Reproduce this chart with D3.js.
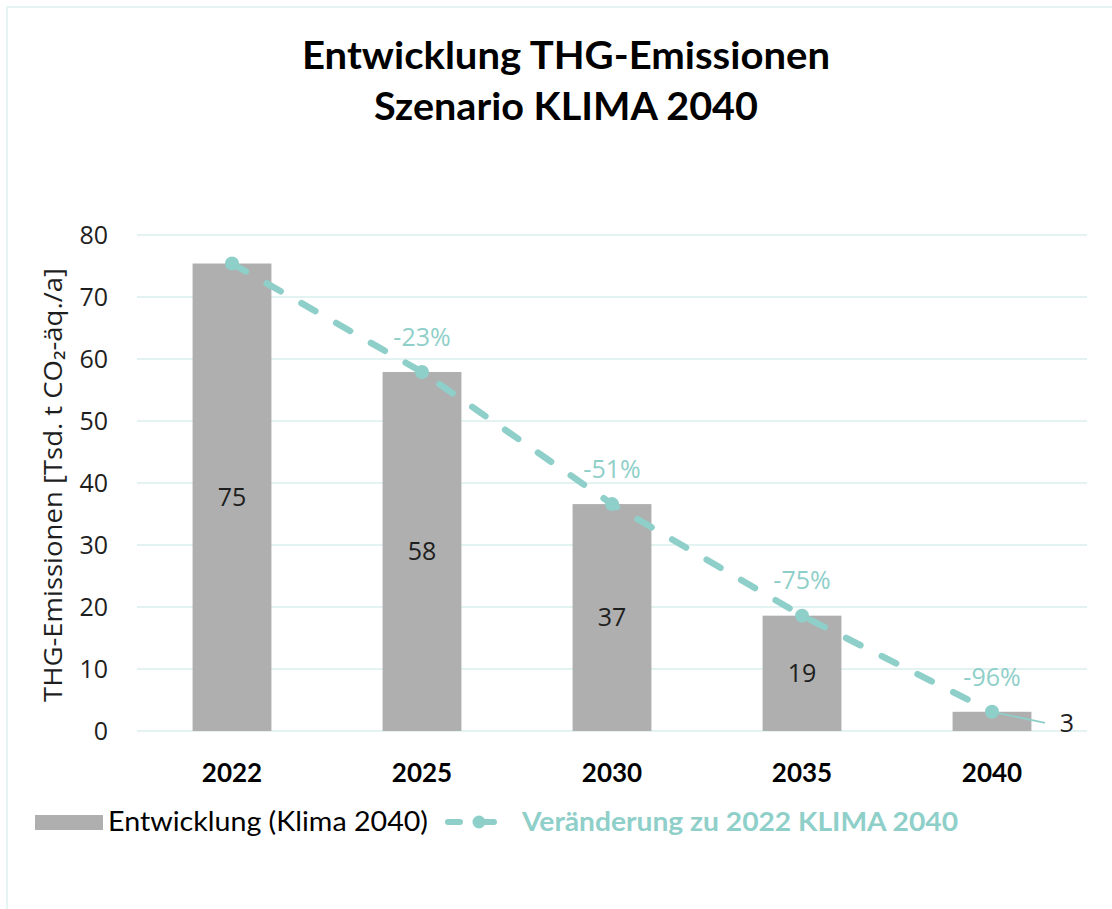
<!DOCTYPE html>
<html>
<head>
<meta charset="utf-8">
<script src="https://cdn.jsdelivr.net/npm/d3@7"></script>
<style>
  html, body { margin: 0; padding: 0; background: #ffffff; }
  svg { display: block; }
</style>
</head>
<body>
<script>
// Emissions scenario KLIMA 2040 (thousand t CO2-eq per year)
const years = ["2022", "2025", "2030", "2035", "2040"];
const emissions = [75.4, 57.9, 36.6, 18.6, 3.1];
const yTicks = [0, 10, 20, 30, 40, 50, 60, 70, 80];

const titleLines = ["Entwicklung THG-Emissionen", "Szenario KLIMA 2040"];
const yTitle = "THG-Emissionen [Tsd. t CO\u2082-äq./a]";
const barLegend = "Entwicklung (Klima 2040)";
const lineLegend = "Veränderung zu 2022 KLIMA 2040";

const W = 1112, H = 909;
const teal = "#8fcfc9";
const barGray = "#afafaf";
const gridColor = "#e3f3f1";
const txt = "#1e1e1e";

const svg = d3.select("body").append("svg")
  .attr("width", W).attr("height", H);

// outer chart frame
svg.append("rect")
  .attr("x", 7).attr("y", 7).attr("width", W + 20).attr("height", H + 20)
  .attr("fill", "none").attr("stroke", "#e6f4f3").attr("stroke-width", 2);

// title
const titleLens = [528, 384];
svg.append("g").selectAll("text").data(titleLines).join("text")
  .attr("x", 566).attr("y", (d, i) => 69 + i * 51)
  .attr("text-anchor", "middle")
  .attr("font-family", "Lato, 'Open Sans', sans-serif")
  .attr("font-weight", 700).attr("font-size", 38)
  .attr("fill", "#000")
  .attr("textLength", (d, i) => titleLens[i])
  .attr("lengthAdjust", "spacingAndGlyphs")
  .text(d => d);

const plot = { left: 137, right: 1087, top: 235, bottom: 731 };

const x = d3.scaleBand().domain(years)
  .range([plot.left, plot.right]).paddingInner(0.585).paddingOuter(0.2925);
const y = d3.scaleLinear().domain([0, 80]).range([plot.bottom, plot.top]);
const cx = d => x(d) + x.bandwidth() / 2;

// gridlines
svg.append("g").selectAll("line").data(yTicks).join("line")
  .attr("x1", plot.left).attr("x2", plot.right)
  .attr("y1", d => y(d)).attr("y2", d => y(d))
  .attr("stroke", gridColor).attr("stroke-width", 2);

// y axis labels
const yAxis = svg.append("g")
  .attr("transform", `translate(${plot.left},0)`)
  .call(d3.axisLeft(y).tickValues(yTicks).tickSize(0).tickPadding(29).tickFormat(d3.format("d")));
yAxis.select(".domain").remove();
yAxis.selectAll("text")
  .attr("font-family", "'Open Sans', sans-serif")
  .attr("font-size", 25).attr("fill", txt);

// y axis title
svg.append("text")
  .attr("transform", `translate(62,${(plot.top + plot.bottom) / 2 + 2}) rotate(-90)`)
  .attr("text-anchor", "middle")
  .attr("font-family", "'Open Sans', sans-serif")
  .attr("font-size", 26).attr("fill", txt)
  .attr("textLength", 434).attr("lengthAdjust", "spacingAndGlyphs")
  .text(yTitle);

// x axis labels
const xAxis = svg.append("g")
  .attr("transform", `translate(0,${plot.bottom})`)
  .call(d3.axisBottom(x).tickSize(0).tickPadding(33));
xAxis.select(".domain").remove();
xAxis.selectAll("text")
  .attr("font-family", "Lato, 'Open Sans', sans-serif")
  .attr("font-weight", 700).attr("font-size", 26).attr("fill", "#000");

const data = years.map((yr, i) => ({ year: yr, value: emissions[i] }));

// bars
svg.append("g").selectAll("rect").data(data).join("rect")
  .attr("x", d => x(d.year)).attr("width", x.bandwidth())
  .attr("y", d => y(d.value)).attr("height", d => y(0) - y(d.value))
  .attr("fill", barGray);

// bar value labels (centred; the smallest sits outside with a leader line)
const fmt = d3.format(".0f");
const last = data[data.length - 1];
svg.append("g").selectAll("text").data(data.slice(0, -1)).join("text")
  .attr("x", d => cx(d.year))
  .attr("y", d => (y(d.value) + y(0)) / 2)
  .attr("dy", "0.35em")
  .attr("text-anchor", "middle")
  .attr("font-family", "'Open Sans', sans-serif")
  .attr("font-size", 25).attr("fill", txt)
  .text(d => fmt(d.value));

// change line
const base = emissions[0];
const line = d3.line().x(d => cx(d.year)).y(d => y(d.value));
svg.append("path").datum(data)
  .attr("d", line)
  .attr("fill", "none").attr("stroke", teal)
  .attr("stroke-width", 6.5).attr("stroke-linecap", "round")
  .attr("stroke-dasharray", "16 24");

// leader line for the last value
svg.append("line")
  .attr("x1", cx(last.year)).attr("y1", y(last.value))
  .attr("x2", cx(last.year) + 53).attr("y2", y(last.value) + 11)
  .attr("stroke", teal).attr("stroke-width", 1.8);
svg.append("text")
  .attr("x", cx(last.year) + 75).attr("y", y(last.value) + 11)
  .attr("dy", "0.35em").attr("text-anchor", "middle")
  .attr("font-family", "'Open Sans', sans-serif")
  .attr("font-size", 25).attr("fill", txt)
  .text(fmt(last.value));

// markers
svg.append("g").selectAll("circle").data(data).join("circle")
  .attr("cx", d => cx(d.year)).attr("cy", d => y(d.value))
  .attr("r", 7).attr("fill", teal);

// percent change labels
const pct = d3.format(".0%");
svg.append("g").selectAll("text").data(data.slice(1)).join("text")
  .attr("x", d => cx(d.year))
  .attr("y", d => y(d.value) - 35)
  .attr("dy", "0.35em")
  .attr("text-anchor", "middle")
  .attr("font-family", "'Open Sans', sans-serif")
  .attr("font-size", 25).attr("fill", teal)
  .text(d => pct(d.value / base - 1).replace("\u2212", "-"));

// legend
const lg = svg.append("g");
lg.append("rect").attr("x", 35).attr("y", 815).attr("width", 68).attr("height", 15)
  .attr("fill", barGray);
lg.append("text")
  .attr("x", 108).attr("y", 822).attr("dy", "0.35em")
  .attr("font-family", "Lato, 'Open Sans', sans-serif")
  .attr("font-size", 26).attr("fill", "#000")
  .attr("textLength", 320).attr("lengthAdjust", "spacingAndGlyphs")
  .text(barLegend);
lg.append("line")
  .attr("x1", 448).attr("x2", 512).attr("y1", 822).attr("y2", 822)
  .attr("stroke", teal).attr("stroke-width", 6).attr("stroke-linecap", "round")
  .attr("stroke-dasharray", "12 22");
lg.append("circle").attr("cx", 479).attr("cy", 822).attr("r", 6.5).attr("fill", teal);
lg.append("text")
  .attr("x", 522).attr("y", 822).attr("dy", "0.35em")
  .attr("font-family", "Lato, 'Open Sans', sans-serif")
  .attr("font-weight", 700).attr("font-size", 26).attr("fill", teal)
  .attr("textLength", 436).attr("lengthAdjust", "spacingAndGlyphs")
  .text(lineLegend);
</script>
</body>
</html>
